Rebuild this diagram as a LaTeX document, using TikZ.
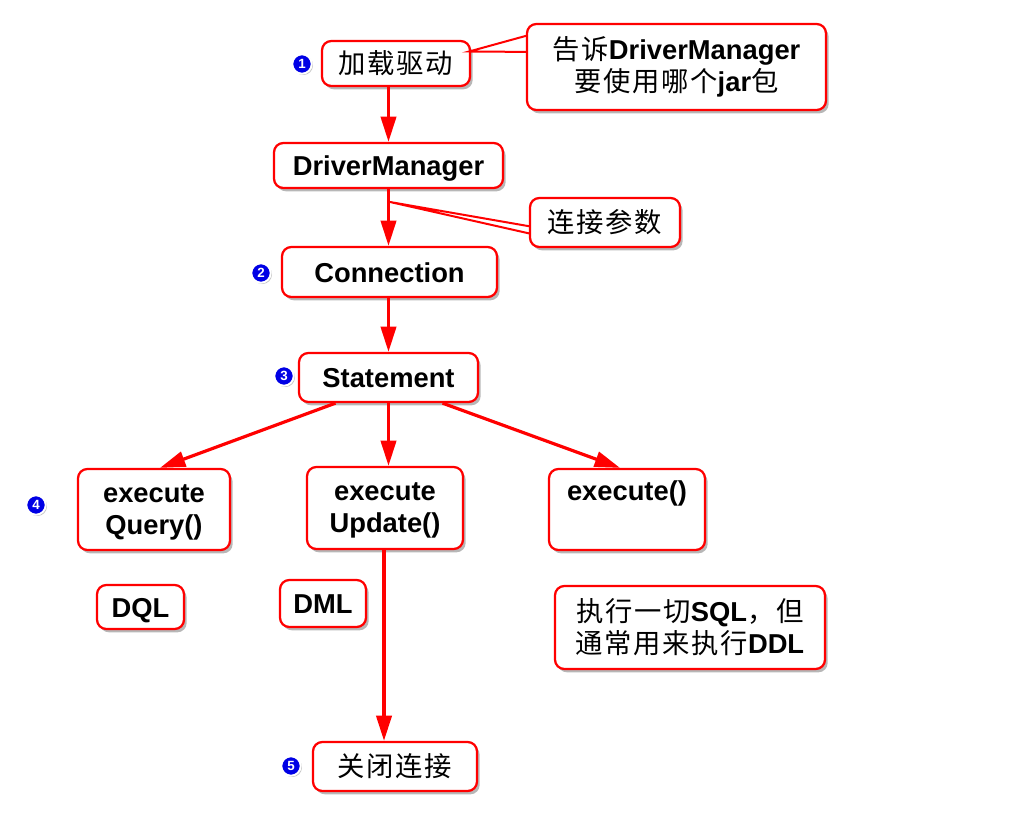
\documentclass[tikz,border=0pt]{standalone}
\usepackage{fontspec}
\setmainfont{Liberation Sans}
\newfontfamily\cjk[LetterSpace=6]{Noto Sans CJK SC}
\usetikzlibrary{arrows.meta,shadows,calc}
\newcommand{\zh}[1]{{\cjk\mdseries #1}}
\tikzset{
  box/.style={draw=red, line width=1.7pt, rounded corners=7pt, fill=white,
    drop shadow={shadow xshift=2pt, shadow yshift=-2.5pt, opacity=0.4, fill=black!70},
    font=\fontsize{20.5pt}{24pt}\selectfont\bfseries, align=center, inner sep=0pt},
  oneline/.style={text height=15pt, text depth=0pt},
  flow/.style={draw=red, line width=2.4pt, -{Triangle[length=19pt,width=11.5pt]}},
  wedge/.style={draw=red, line width=1.5pt, fill=white, line join=miter},
  badge/.style={circle, draw=white, line width=1.4pt, fill=blue!90!black, text=white,
    minimum size=14.5pt, inner sep=0pt, font=\fontsize{10pt}{10pt}\selectfont\bfseries,
    drop shadow={shadow xshift=1pt, shadow yshift=-1pt, opacity=0.45}}
}
\begin{document}
\begin{tikzpicture}[x=0.75pt,y=-0.75pt]
\useasboundingbox (0,0) rectangle (1024,838);

% main nodes
\node[box, oneline, minimum width=111pt, minimum height=33.75pt] (load) at (396,63.5) {\zh{加载驱动}};
\node[box, oneline, minimum width=171.75pt, minimum height=33.75pt] (dm) at (388.5,165.5) {DriverManager};
\node[box, oneline, minimum width=161.25pt, minimum height=37.5pt] (conn) at (389.5,272) {Connection};
\node[box, oneline, minimum width=134.25pt, minimum height=36.75pt] (stmt) at (388.5,377.5) {Statement};
\node[box, minimum width=114pt, minimum height=60.75pt] (eq) at (154,509.5) {\rule{0pt}{17pt}execute\\Query()};
\node[box, minimum width=117pt, minimum height=61.5pt] (eu) at (385,508) {\rule{0pt}{17pt}execute\\Update()};
\node[box, minimum width=117pt, minimum height=60.75pt] (ex) at (627,509.5) {\rule{0pt}{17pt}execute()\\\strut};
\node[box, oneline, minimum width=65.25pt, minimum height=33pt] (dql) at (140.5,607) {DQL};
\node[box, oneline, minimum width=64.5pt, minimum height=35.25pt] (dml) at (323,603.5) {DML};
\node[box, oneline, minimum width=123pt, minimum height=36.75pt] (close) at (395,766.5) {\zh{关闭连接}};

% callout wedges
\coordinate (tip1) at ($(load.east)+(-2,-12)$);
\coordinate (tip2) at (390,202);
\draw[wedge] (tip1) -- (540,32) -- (540,52) -- cycle;
\draw[wedge] (tip2) -- (545,229) -- (545,237) -- cycle;

% notes
\node[box, minimum width=224.25pt, minimum height=64.5pt] (note1) at (676.5,67)
  {\zh{告诉}DriverManager\\\zh{要使用哪个}jar\zh{包}};
\node[box, oneline, minimum width=112.5pt, minimum height=36.75pt] (note2) at (605,222.5) {\zh{连接参数}};
\node[box, minimum width=202.5pt, minimum height=62.25pt] (note3) at (690,627.5)
  {\zh{执行一切}SQL\zh{，但}\\\zh{通常用来执行}DDL};

% connectors
\draw[flow] (load.south -| dm.north) -- (dm.north);
\draw[flow] (dm.south) -- (dm.south |- conn.north);
\draw[flow] (conn.south -| stmt.north) -- (stmt.north);
\draw[flow] ($(stmt.south)+(-53,0)$) -- ($(eq.north)+(6,0)$);
\draw[flow] (stmt.south) -- (stmt.south |- eu.north);
\draw[flow] ($(stmt.south)+(54,0)$) -- ($(ex.north)+(-7,0)$);
\draw[flow] ($(eu.south)+(-1,0)$) -- ($(eu.south |- close.north)+(-1,0)$);

% badges
\node[badge] (b1) at (302,64) {1};
\node[badge] (b2) at (261,273) {2};
\node[badge] (b3) at (284,376) {3};
\node[badge] (b4) at (36,505) {4};
\node[badge] (b5) at (291,766) {5};
\end{tikzpicture}
\end{document}
